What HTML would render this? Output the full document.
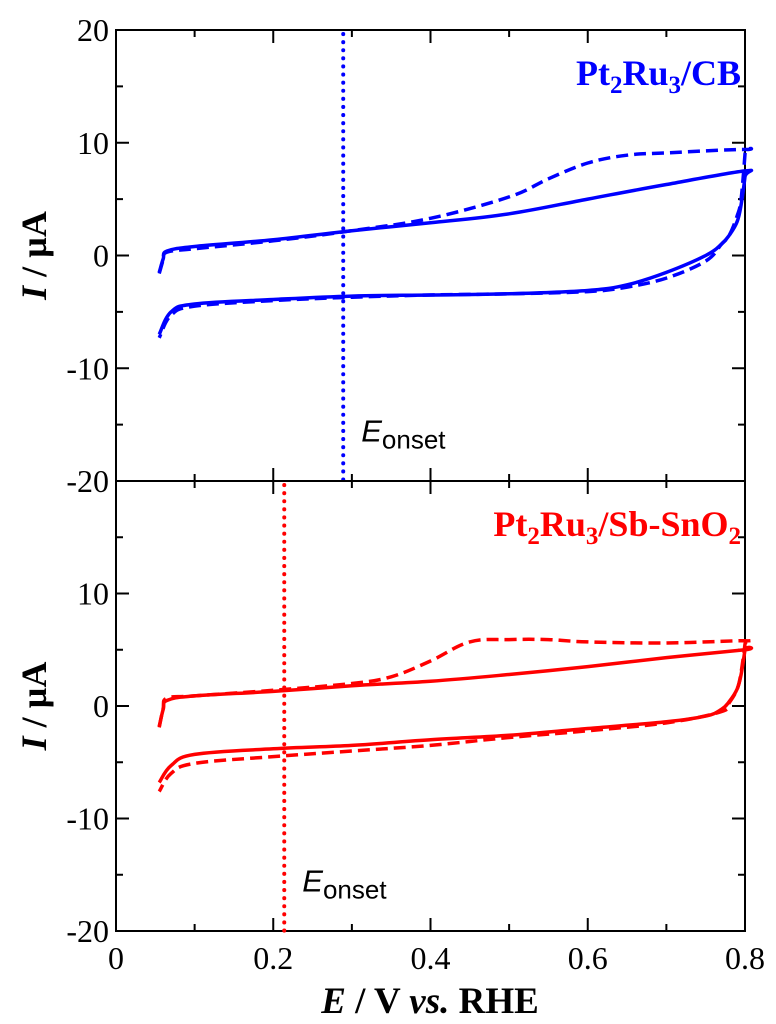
<!DOCTYPE html>
<html><head><meta charset="utf-8"><style>
body{margin:0;background:#fff}
svg{display:block}
.serif{font-family:"Liberation Serif",serif}
.sans{font-family:"Liberation Sans",sans-serif}
</style></head><body>
<svg id="chart" width="776" height="1024" viewBox="0 0 776 1024">
<g id="g"></g>
</svg>
<script>
const xTicks=[0,0.2,0.4,0.6,0.8];
const xTickLabels=["0","0.2","0.4","0.6","0.8"];
const yTicks=[20,10,0,-10,-20];
const yTickLabels=["20","10","0","-10","-20"];
const onsetTop=0.289;
const onsetBot=0.214;
// top panel Pt2Ru3/CB
const topSolidE=[0.055,0.06,0.065,0.1,0.2,0.3,0.4,0.5,0.6,0.7,0.8,0.8,0.795,0.79,0.78,0.77,0.75,0.7,0.65,0.6,0.5,0.4,0.3,0.2,0.1,0.07,0.055];
const topSolidI=[-1.5,-0.3,0.4,0.8,1.4,2.2,2.9,3.7,5.0,6.3,7.5,7.0,4.5,3.0,1.8,1.0,0,-1.5,-2.6,-3.1,-3.4,-3.5,-3.6,-3.9,-4.3,-5.0,-7.0];
const topDashE=[0.055,0.06,0.065,0.1,0.2,0.3,0.4,0.5,0.55,0.6,0.65,0.7,0.8,0.8,0.795,0.79,0.78,0.77,0.75,0.7,0.65,0.6,0.5,0.4,0.3,0.2,0.1,0.07,0.055];
const topDashI=[-1.6,-0.4,0.3,0.6,1.3,2.2,3.3,5.2,6.8,8.2,8.9,9.1,9.4,9.0,5.0,3.5,1.8,1.0,-0.5,-2.0,-2.8,-3.2,-3.4,-3.5,-3.7,-4.0,-4.5,-5.3,-7.3];
// bottom panel Pt2Ru3/Sb-SnO2
const botSolidE=[0.055,0.06,0.065,0.1,0.2,0.3,0.4,0.5,0.6,0.7,0.8,0.8,0.795,0.79,0.78,0.77,0.75,0.7,0.6,0.5,0.4,0.3,0.2,0.1,0.07,0.055];
const botSolidI=[-1.8,-0.3,0.5,0.9,1.3,1.8,2.2,2.8,3.5,4.3,5.0,5.0,2.8,1.5,0.4,-0.3,-0.9,-1.4,-2.0,-2.6,-3.0,-3.5,-3.8,-4.3,-5.3,-6.8];
const botDashE=[0.055,0.06,0.065,0.1,0.2,0.3,0.35,0.4,0.45,0.5,0.55,0.6,0.7,0.8,0.8,0.795,0.79,0.78,0.77,0.7,0.6,0.5,0.4,0.3,0.2,0.1,0.07,0.055];
const botDashI=[-1.9,-0.2,0.7,0.9,1.4,2.0,2.6,4.0,5.7,5.9,5.9,5.7,5.6,5.8,5.5,3.0,1.5,0.3,-0.5,-1.5,-2.2,-2.8,-3.5,-4.0,-4.5,-5.1,-6.0,-7.6];

const NS="http://www.w3.org/2000/svg";
const g=document.getElementById('g');
const X0=116,X1=745;
const xs=v=>X0+(v/0.8)*(X1-X0);
function mk(tag,attrs,parent){const e=document.createElementNS(NS,tag);for(const k in attrs)e.setAttribute(k,attrs[k]);(parent||g).appendChild(e);return e;}
function smooth(P){
  let d='M'+P[0][0].toFixed(1)+','+P[0][1].toFixed(1);
  for(let i=0;i<P.length-1;i++){
    const p0=P[Math.max(0,i-1)],p1=P[i],p2=P[i+1],p3=P[Math.min(P.length-1,i+2)];
    const t=0.18;
    const c1=[p1[0]+(p2[0]-p0[0])*t,p1[1]+(p2[1]-p0[1])*t];
    const c2=[p2[0]-(p3[0]-p1[0])*t,p2[1]-(p3[1]-p1[1])*t];
    d+=` C${c1[0].toFixed(1)},${c1[1].toFixed(1)} ${c2[0].toFixed(1)},${c2[1].toFixed(1)} ${p2[0].toFixed(1)},${p2[1].toFixed(1)}`;
  }
  return d;
}
function panel(top,bot,color,sE,sI,dE,dI,onset,label,name,showX){
  const ys=v=>top+(20-v)/40*(bot-top);
  const pg=mk('g',{class:'serif'});
  
  
  const fr=mk('rect',{x:X0,y:top,width:X1-X0,height:bot-top,fill:'none',stroke:'#000','stroke-width':2},pg);
  
  
  for(let i=0;i<=8;i++){const v=i*0.1,L=(i%2==0)?13:7,x=xs(v);
    mk('line',{x1:x,x2:x,y1:bot,y2:bot-L,stroke:'#000','stroke-width':2},pg);
    mk('line',{x1:x,x2:x,y1:top,y2:top+L,stroke:'#000','stroke-width':2},pg);}
  for(let v=-20;v<=20;v+=5){const L=(v%10==0)?13:7,y=ys(v);
    mk('line',{x1:X0,x2:X0+L,y1:y,y2:y,stroke:'#000','stroke-width':2},pg);
    mk('line',{x1:X1,x2:X1-L,y1:y,y2:y,stroke:'#000','stroke-width':2},pg);}
  yTicks.forEach((v,i)=>{ if(showX && v==20) return;
    const t=mk('text',{x:X0-7,y:ys(v)+11,'text-anchor':'end','font-size':32},pg);t.textContent=yTickLabels[i];
    
    });
  if(showX) xTicks.forEach((v,i)=>{const t=mk('text',{x:xs(v),y:bot+38,'text-anchor':'middle','font-size':32},pg);t.textContent=xTickLabels[i];
    
    });
  const ox=xs(onset);
  const ol=mk('line',{x1:ox,x2:ox,y1:top+4,y2:bot,stroke:color,'stroke-width':4,'stroke-dasharray':'0.1 8','stroke-linecap':'round'},pg);
  
  
  const pts=(E,I)=>E.map((e,i)=>[xs(e),ys(I[i])]);
  const s=mk('path',{d:smooth(pts(sE,sI)),fill:'none',stroke:color,'stroke-width':3.5,'stroke-linejoin':'round'},pg);
  
  
  const d=mk('path',{d:smooth(pts(dE,dI)),fill:'none',stroke:color,'stroke-width':3.5,'stroke-dasharray':'12 6'},pg);
  
  
  const et=mk('text',{x:ox+18,y:ys(-16.5),'font-size':31,class:'sans'},pg);
  et.innerHTML='<tspan font-style="italic">E</tspan><tspan font-size="26" dy="7">onset</tspan>';
  
  
  const lt=mk('text',{x:X1-4,y:top+55,'text-anchor':'end','font-size':36,'font-weight':'bold',fill:color},pg);
  lt.innerHTML=label;
  
  
  const yl=mk('text',{transform:`translate(46,${(top+bot)/2}) rotate(-90)`,'text-anchor':'middle','font-size':36,'font-weight':'bold'},pg);
  yl.innerHTML='<tspan font-style="italic">I</tspan> / µA';
  
  
}
const sub=(t)=>`<tspan font-size="25" dy="8">${t}</tspan>`;
panel(30,481,'#0000ff',topSolidE,topSolidI,topDashE,topDashI,onsetTop,'Pt'+sub('2')+'<tspan dy="-8">Ru</tspan>'+sub('3')+'<tspan dy="-8">/CB</tspan>','top',false);
panel(481,931,'#ff0000',botSolidE,botSolidI,botDashE,botDashI,onsetBot,'Pt'+sub('2')+'<tspan dy="-8">Ru</tspan>'+sub('3')+'<tspan dy="-8">/Sb-SnO</tspan>'+sub('2'),'bottom',true);
const xl=mk('text',{x:430,y:1013,'text-anchor':'middle','font-size':37,'font-weight':'bold',class:'serif'});
xl.innerHTML='<tspan font-style="italic">E</tspan> / V <tspan font-style="italic">vs.</tspan> RHE';


</script>
</body></html>
